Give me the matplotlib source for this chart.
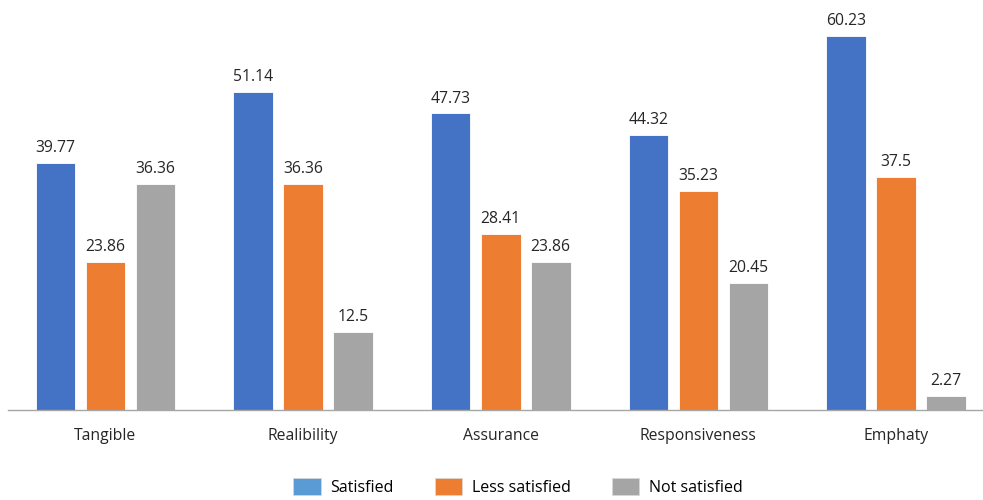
import numpy as np
import matplotlib
matplotlib.use("Agg")
import matplotlib.pyplot as plt
from matplotlib.patches import Patch

categories = ["Tangible", "Realibility", "Assurance", "Responsiveness", "Emphaty"]
satisfied = [39.77, 51.14, 47.73, 44.32, 60.23]
less_satisfied = [23.86, 36.36, 28.41, 35.23, 37.5]
not_satisfied = [36.36, 12.5, 23.86, 20.45, 2.27]
series_names = ["Satisfied", "Less satisfied", "Not satisfied"]

plt.rcParams['font.family'] = ['Open Sans', 'DejaVu Sans']

bar_colors = ["#4472C4", "#ED7D31", "#A5A5A5"]
legend_colors = ["#5B9BD5", "#ED7D31", "#A5A5A5"]

fig = plt.figure(figsize=(9.83, 5.0), dpi=100)
ax = fig.add_axes([8 / 983, 90 / 500, 975 / 983, 410 / 500])

x = np.arange(len(categories))
width = 0.2
offsets = [-0.253, 0.0, 0.253]

for vals, off, col in zip([satisfied, less_satisfied, not_satisfied], offsets, bar_colors):
    bars = ax.bar(x + off, vals, width, color=col, edgecolor="white", linewidth=0.6)
    for b, v in zip(bars, vals):
        ax.annotate(f"{v:g}", (b.get_x() + b.get_width() / 2, v),
                    xytext=(0, 5), textcoords="offset points",
                    ha="center", va="bottom", fontsize=11.3, color="#262626")

ax.set_xlim(-0.493, 4.44)
ax.set_ylim(0, 66.0)
ax.set_yticks([])
ax.set_xticks(x)
ax.set_xticklabels(categories, fontsize=11.3, color="#262626")
ax.tick_params(axis="x", length=0, pad=13)
for s in ["top", "right", "left"]:
    ax.spines[s].set_visible(False)
ax.spines["bottom"].set_color("#A6A6A6")
ax.spines["bottom"].set_linewidth(1)

handles = [Patch(facecolor=c, edgecolor="#d9d9d9", linewidth=0.5) for c in legend_colors]
fig.legend(handles, series_names, loc="center", bbox_to_anchor=(518 / 983, 1 - 487 / 500),
           ncol=3, frameon=False, fontsize=11.5, handlelength=1.7, handleheight=1.3,
           columnspacing=2.6, handletextpad=0.6)

fig.savefig("out.png", dpi=100)
